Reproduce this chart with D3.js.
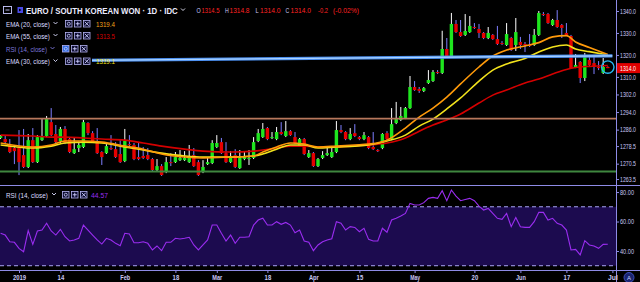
<!DOCTYPE html>
<html>
<head>
<meta charset="utf-8">
<script src="https://cdn.jsdelivr.net/npm/d3@7"></script>
<style>
html,body{margin:0;padding:0;background:#000;}
svg{display:block;}
text{font-family:"Liberation Sans",Arial,sans-serif;}
</style>
</head>
<body>
<script>
// daily candles, 26 Dec 2018 -> 28 Jun 2019
const opens = [1282.2,1281.7,1279.0,1277.6,1278.1,1274.4,1269.0,1281.2,1271.2,1281.2,
  1283.1,1289.4,1284.0,1280.8,1286.3,1281.7,1275.3,1277.6,1278.1,1289.0,
  1284.4,1280.3,1275.8,1275.3,1277.6,1277.1,1274.9,1271.7,1279.4,1279.0,
  1273.5,1274.0,1274.4,1272.6,1267.6,1269.4,1266.7,1271.2,1271.2,1272.1,
  1272.1,1271.2,1274.4,1271.2,1266.7,1270.3,1270.8,1278.1,1280.3,1275.3,
  1271.2,1274.4,1268.5,1272.6,1272.6,1273.1,1280.8,1282.6,1286.7,1282.2,
  1281.7,1284.9,1283.1,1285.3,1282.6,1278.5,1281.7,1273.5,1275.3,1269.4,
  1273.1,1274.4,1273.5,1275.8,1285.8,1284.9,1281.7,1284.4,1282.6,1281.7,
  1282.6,1278.1,1276.7,1277.6,1284.4,1281.7,1289.0,1290.4,1291.3,1295.8,
  1305.4,1304.5,1303.6,1307.2,1308.1,1312.2,1311.8,1322.7,1319.0,1334.1,
  1330.4,1329.1,1330.4,1332.7,1331.8,1330.0,1327.7,1329.1,1327.2,1325.4,
  1324.5,1327.7,1324.5,1325.9,1325.0,1324.5,1324.5,1329.1,1338.6,1338.6,
  1333.6,1335.9,1333.6,1330.0,1328.6,1314.5,1316.8,1309.5,1317.7,1316.3,
  1314.5,1311.8,1314.5];
const highs = [1283.5,1283.5,1281.7,1278.5,1285.8,1286.3,1284.0,1286.7,1283.5,1290.8,
  1292.2,1295.8,1288.1,1287.2,1287.6,1282.2,1282.2,1280.3,1290.4,1289.4,
  1285.3,1286.7,1276.2,1279.4,1283.5,1280.3,1281.2,1286.3,1283.5,1279.9,
  1279.9,1278.1,1277.6,1273.1,1272.6,1270.3,1273.5,1275.3,1275.8,1276.7,
  1276.2,1279.0,1277.6,1272.1,1272.1,1273.1,1281.2,1283.5,1282.2,1280.3,
  1276.2,1277.1,1276.7,1276.2,1276.7,1282.6,1286.3,1289.0,1287.2,1284.9,
  1287.2,1289.4,1289.9,1285.8,1284.9,1282.2,1282.2,1276.7,1275.8,1273.1,
  1276.2,1278.1,1278.5,1289.9,1288.1,1285.3,1286.7,1288.5,1283.1,1284.9,
  1283.1,1284.9,1277.1,1284.4,1285.3,1295.8,1298.6,1296.3,1296.3,1310.4,
  1308.1,1305.4,1305.4,1313.1,1313.1,1313.1,1331.0,1327.7,1339.1,1335.9,
  1335.9,1338.6,1337.7,1334.5,1334.1,1330.4,1332.7,1329.5,1333.2,1326.3,
  1334.5,1328.2,1336.8,1328.2,1325.9,1329.5,1331.8,1340.0,1339.5,1339.1,
  1336.4,1340.4,1334.1,1334.5,1329.1,1320.4,1317.2,1320.9,1320.0,1320.0,
  1317.2,1318.6,1314.8];
const lows = [1281.7,1279.4,1275.3,1270.3,1265.3,1268.5,1268.5,1270.8,1270.8,1280.8,
  1282.6,1283.1,1279.9,1279.9,1279.4,1275.3,1274.9,1275.8,1277.6,1283.5,
  1279.9,1274.9,1269.9,1274.9,1276.7,1273.1,1270.8,1271.2,1278.5,1272.1,
  1272.1,1272.6,1272.1,1267.1,1267.1,1264.9,1266.2,1269.4,1270.8,1271.7,
  1271.7,1270.8,1269.0,1264.9,1266.2,1269.9,1270.3,1277.6,1274.9,1270.8,
  1270.8,1268.5,1268.1,1272.1,1269.9,1272.6,1280.3,1282.2,1281.2,1281.7,
  1281.2,1283.5,1282.6,1283.1,1279.4,1278.1,1274.4,1273.1,1269.0,1269.0,
  1272.6,1274.0,1273.1,1275.3,1284.4,1281.2,1281.2,1282.6,1281.2,1281.2,
  1277.1,1276.7,1275.8,1277.1,1281.2,1281.2,1288.5,1289.9,1290.8,1295.4,
  1303.6,1302.7,1303.1,1306.8,1307.7,1311.3,1311.3,1318.6,1318.6,1330.0,
  1328.2,1328.6,1330.0,1331.8,1327.7,1327.2,1327.2,1326.8,1324.5,1324.5,
  1324.1,1321.8,1321.8,1322.7,1321.3,1323.6,1324.1,1328.6,1337.7,1334.1,
  1333.2,1332.3,1327.7,1328.6,1313.6,1314.0,1307.2,1308.1,1315.0,1311.3,
  1313.1,1311.3,1314.0];
const closes = [1283.1,1280.3,1275.8,1276.2,1271.2,1269.0,1281.2,1271.2,1282.6,1283.1,
  1290.8,1283.5,1280.3,1286.3,1279.9,1275.8,1277.1,1279.0,1289.4,1284.4,
  1280.3,1275.3,1273.5,1278.5,1277.1,1273.5,1271.2,1280.8,1279.0,1272.6,
  1272.6,1273.1,1272.6,1267.6,1269.4,1265.3,1271.2,1270.8,1273.5,1273.1,
  1273.1,1273.5,1269.4,1265.3,1269.0,1271.2,1279.9,1279.9,1275.3,1271.2,
  1274.0,1269.0,1273.1,1273.5,1273.1,1280.3,1284.4,1286.3,1281.7,1282.6,
  1284.9,1284.0,1285.3,1283.5,1279.9,1281.7,1274.9,1275.3,1269.4,1272.6,
  1274.4,1275.3,1275.8,1285.8,1284.9,1281.7,1284.0,1283.1,1281.7,1283.5,
  1277.6,1277.1,1276.2,1284.0,1281.7,1288.5,1290.8,1292.2,1295.8,1305.4,
  1304.0,1303.6,1304.9,1308.6,1312.2,1311.8,1322.7,1319.0,1334.1,1330.4,
  1328.6,1330.9,1333.2,1332.3,1330.0,1327.7,1330.0,1327.2,1325.0,1325.0,
  1329.5,1322.2,1330.4,1324.5,1324.5,1324.1,1329.1,1339.1,1338.2,1334.5,
  1335.9,1332.7,1332.3,1329.1,1314.0,1315.4,1309.5,1319.0,1315.4,1314.5,
  1314.0,1314.5,1314.0];

// RSI(14), one value per candle
const rsiValues = [52.0,50.8,46.3,45.9,41.8,39.5,53.8,44.5,53.6,54.2,
  58.8,53.6,50.8,54.7,49.7,46.8,47.5,48.6,57.6,54.2,
  50.8,47.5,44.7,48.6,47.5,45.2,43.6,52.0,51.5,45.6,
  45.6,46.3,45.2,40.7,43.4,40.2,45.9,45.9,48.6,48.1,
  48.6,49.3,44.1,40.7,44.1,47.5,57.6,57.6,52.0,46.8,
  50.8,45.2,49.3,49.3,49.7,57.6,61.0,62.2,57.6,57.6,
  59.9,58.1,59.4,57.6,52.4,54.2,46.8,45.9,40.2,44.1,
  46.3,47.5,48.3,59.9,58.8,54.2,56.5,56.0,53.1,55.4,
  47.9,46.8,46.8,55.4,52.7,61.0,62.2,63.7,65.5,72.3,
  71.2,71.2,72.8,75.7,76.4,75.7,80.9,74.1,81.4,77.3,
  74.1,75.0,75.7,74.1,70.5,67.8,68.9,65.5,62.2,61.5,
  65.5,56.5,62.8,56.5,56.0,56.0,59.9,66.2,66.2,61.0,
  62.2,58.8,57.6,54.2,40.7,41.1,37.3,47.0,44.1,43.4,
  41.8,44.5,44.6];

// moving averages, read at these candle positions
const emaBars = [0,7,11,14,18,22,27,31,35,40,44,50,55,57,60,63,66,69,73,77,80,84,88,91,94,97,100,104,107,110,114,117,120,123,125,128,132];
const ema20 = [1279.9,1278.1,1279.0,1280.8,1280.8,1280.3,1278.5,1277.1,1274.9,1273.5,1273.1,1273.5,1274.0,1275.8,1278.1,1279.9,1279.4,1278.1,1278.5,1279.0,1279.4,1281.2,1286.7,1291.7,1295.8,1300.8,1306.8,1314.5,1319.5,1322.2,1324.1,1325.6,1328.2,1328.8,1325.9,1323.4,1320.2];
const ema30 = [1279.0,1277.6,1278.5,1279.9,1280.3,1279.9,1278.1,1276.7,1275.3,1274.0,1273.5,1273.5,1274.0,1274.9,1277.1,1279.0,1279.0,1277.6,1278.1,1278.5,1279.0,1280.8,1283.5,1287.6,1290.8,1295.4,1300.4,1308.1,1313.1,1315.9,1318.4,1321.3,1323.6,1324.5,1322.7,1321.5,1320.0];
const ema55 = [1283.5,1283.1,1282.6,1282.6,1282.2,1281.7,1281.2,1279.9,1278.5,1277.1,1276.2,1275.8,1276.2,1276.7,1277.6,1278.5,1278.5,1278.1,1278.1,1278.5,1279.0,1279.9,1282.2,1285.3,1288.1,1290.4,1293.1,1298.1,1301.7,1304.0,1307.2,1309.0,1311.3,1313.4,1314.3,1314.8,1315.2];

// drawn levels
const trendDates = ["2018-12-26", "2019-07-01"];
const trendPrices = [1317.2, 1319.6];
const resistLevel = 1291.0;
const supportLevel = 1266.9;

const priceTicks = [1340, 1330, 1320, 1310, 1302, 1294, 1286, 1278.5, 1270.5, 1263.5];
const rsiTicks = [80, 60, 40];
const xTickDates = ["2019-01-01","2019-01-14","2019-02-01","2019-02-18","2019-03-01","2019-03-18","2019-04-01","2019-04-15","2019-05-01","2019-05-20","2019-06-03","2019-06-17","2019-07-01"];
const xTickLabels = ["2019","14","Feb","18","Mar","18","Apr","15","May","20","Jun","17","Jul"];

const titleText = "EURO / SOUTH KOREAN WON · 1D · IDC";
const legendLabels = ["EMA (20, close)", "EMA (55, close)", "RSI (14, close)", "EMA (30, close)"];
const legendValues = ["1319.4", "1313.5", "", "1319.1"];
const rsiLegendValue = "44.57";
const quoteChange = ["-0.2", "(-0.02%)"];

const W = 640, H = 282, axisX = 616;
const lav = "#c9c7f5", lineLav = "#8e8be6";

const fmt = d3.timeFormat("%Y-%m-%d");
const allDays = d3.timeDay.range(new Date(2018, 11, 26), new Date(2019, 6, 2))
  .filter(d => d.getDay() !== 0 && d.getDay() !== 6).map(fmt);
const barDays = allDays.slice(0, closes.length);
const last = closes.length - 1;

const x = d3.scalePoint().domain(allDays).range([0.6, 612.4]);
const y = d3.scaleLinear().domain([1261.7, 1345]).range([183, 0]);
const ry = d3.scaleLinear().domain([27.1, 84.1]).range([270, 186]);

const svg = d3.select("body").append("svg").attr("width", W).attr("height", H);
svg.append("rect").attr("width", W).attr("height", H).attr("fill", "#000");

const defs = svg.append("defs");
defs.append("clipPath").attr("id", "pclip").append("rect").attr("x", 0).attr("y", 0).attr("width", axisX).attr("height", 185);
defs.append("clipPath").attr("id", "rclip").append("rect").attr("x", 0).attr("y", 186).attr("width", axisX).attr("height", 84);

/* ---------- price pane ---------- */
const pg = svg.append("g").attr("clip-path", "url(#pclip)");

const bars = closes.map((c, i) => ({d: barDays[i], o: opens[i], h: highs[i], l: lows[i], c: c}));
const bw = 3.4;

pg.selectAll(".wick").data(bars).join("line")
  .attr("x1", d => x(d.d)).attr("x2", d => x(d.d))
  .attr("y1", d => y(d.h)).attr("y2", d => y(d.l))
  .attr("stroke", d => d.c >= d.o ? "#ffffff" : "#7f7fff").attr("stroke-width", 1);

pg.selectAll(".body").data(bars).join("rect")
  .attr("x", d => x(d.d) - bw / 2).attr("width", bw)
  .attr("y", d => y(Math.max(d.o, d.c)))
  .attr("height", d => Math.max(1, Math.abs(y(d.o) - y(d.c))))
  .attr("fill", d => d.c >= d.o ? "#1ee61e" : "#e60000");

const emaLine = d3.line().x(d => x(barDays[d[0]])).y(d => y(d[1])).curve(d3.curveMonotoneX);
[[ema55, "#d40000"], [ema30, "#f2e21c"], [ema20, "#ff9a0a"]].forEach(([vals, col]) => {
  pg.append("path").datum(vals.map((v, k) => [emaBars[k], v]))
    .attr("d", emaLine).attr("fill", "none").attr("stroke", col).attr("stroke-width", 1.6);
});

pg.append("line").attr("x1", 0).attr("x2", axisX).attr("y1", y(resistLevel)).attr("y2", y(resistLevel))
  .attr("stroke", "#b7775c").attr("stroke-width", 1.6);
pg.append("line").attr("x1", 0).attr("x2", axisX).attr("y1", y(supportLevel)).attr("y2", y(supportLevel))
  .attr("stroke", "#3f873f").attr("stroke-width", 2);

// blue trend line
[[3.2, "#4b8ff0"], [1.2, "#a9d2ff"]].forEach(([w, col]) => {
  pg.append("line")
    .attr("x1", x(trendDates[0])).attr("y1", y(trendPrices[0]))
    .attr("x2", x(trendDates[1])).attr("y2", y(trendPrices[1]))
    .attr("stroke", col).attr("stroke-width", w);
});

pg.append("circle").attr("cx", x(barDays[last])).attr("cy", y(closes[last]) - 1).attr("r", 6.2)
  .attr("fill", "none").attr("stroke", "#27b5ee").attr("stroke-width", 1.4);

/* ---------- rsi pane ---------- */
const rg = svg.append("g").attr("clip-path", "url(#rclip)");
rg.append("rect").attr("x", 0).attr("width", axisX).attr("y", ry(70)).attr("height", ry(30) - ry(70)).attr("fill", "#1c0b4f");
[70, 30].forEach(v => {
  rg.append("line").attr("x1", 0).attr("x2", axisX).attr("y1", ry(v)).attr("y2", ry(v))
    .attr("stroke", "#aaa5f5").attr("stroke-width", 1).attr("stroke-dasharray", "4,3");
});
rg.append("path").datum(rsiValues)
  .attr("d", d3.line().x((d, i) => x(barDays[i])).y(d => ry(d)))
  .attr("fill", "none").attr("stroke", "#9a2df0").attr("stroke-width", 1.1);

/* ---------- frame lines ---------- */
svg.append("line").attr("x1", axisX + 0.5).attr("x2", axisX + 0.5).attr("y1", 0).attr("y2", H).attr("stroke", lineLav);
svg.append("line").attr("x1", 0).attr("x2", W).attr("y1", 185.5).attr("y2", 185.5).attr("stroke", lineLav);
svg.append("line").attr("x1", 0).attr("x2", W).attr("y1", 270.5).attr("y2", 270.5).attr("stroke", lineLav);

/* ---------- axes ---------- */
function styleAxis(g, len) {
  g.select(".domain").remove();
  g.selectAll(".tick line").attr("stroke", lineLav);
  g.selectAll(".tick text").attr("fill", lav).attr("font-size", 7)
    .attr("textLength", len).attr("lengthAdjust", "spacingAndGlyphs");
}
const pAxis = svg.append("g").attr("transform", `translate(${axisX},0)`)
  .call(d3.axisRight(y).tickValues(priceTicks).tickSize(3).tickPadding(1).tickFormat(d3.format(".1f")));
styleAxis(pAxis, 16);

const rAxis = svg.append("g").attr("transform", `translate(${axisX},0)`)
  .call(d3.axisRight(ry).tickValues(rsiTicks).tickSize(3).tickPadding(1).tickFormat(d3.format(".2f")));
styleAxis(rAxis, 14);

const xAxis = svg.append("g").attr("transform", "translate(0,270)")
  .call(d3.axisBottom(x).tickValues(xTickDates).tickSize(3).tickPadding(2).tickFormat((d, i) => xTickLabels[i]));
xAxis.select(".domain").remove();
xAxis.selectAll(".tick line").attr("stroke", lineLav);
xAxis.selectAll(".tick text").attr("fill", lav).attr("font-size", 7).attr("font-weight", "bold")
  .attr("textLength", (d, i) => xTickLabels[i].length * 3.3).attr("lengthAdjust", "spacingAndGlyphs");

// last price tag
const tagY = y(closes[last]);
svg.append("rect").attr("x", axisX + 1).attr("y", tagY - 5).attr("width", W - axisX - 1).attr("height", 10).attr("fill", "#e00000");
svg.append("text").attr("x", axisX + 4).attr("y", tagY + 2.5).attr("fill", "#fff").attr("font-size", 7)
  .attr("textLength", 16).attr("lengthAdjust", "spacingAndGlyphs").text(d3.format(".1f")(closes[last]));

// "A" button
svg.append("circle").attr("cx", 629).attr("cy", 277.5).attr("r", 5).attr("fill", "#1a2470").attr("stroke", "#3d4fb8");
svg.append("text").attr("x", 629).attr("y", 280).attr("text-anchor", "middle").attr("fill", "#c8d0ff").attr("font-size", 6).text("A");

/* ---------- header & legends ---------- */
function chevron(x0, yb, col) {
  svg.append("path").attr("d", `M${x0},${yb - 4} L${x0 + 2},${yb - 2} L${x0 + 4},${yb - 4}`)
    .attr("fill", "none").attr("stroke", col).attr("stroke-width", 0.9);
}
function icons(x0, yTop, highlight) {
  for (let k = 0; k < 3; k++) {
    const ix = x0 + k * 9;
    svg.append("rect").attr("x", ix + 0.5).attr("y", yTop + 0.5).attr("width", 6.5).attr("height", 6.5)
      .attr("fill", highlight && k === 0 ? "#2e6be0" : "#0c0c30").attr("stroke", "#b4b2f2").attr("stroke-width", 0.8);
    const cx = ix + 3.75, cy = yTop + 3.75;
    if (k === 0) svg.append("circle").attr("cx", cx).attr("cy", cy).attr("r", 1.5).attr("fill", "none").attr("stroke", "#d0d0ff").attr("stroke-width", 0.8);
    if (k === 1) svg.append("path").attr("d", `M${cx - 2},${cy} H${cx + 2} M${cx},${cy - 2} V${cy + 2}`).attr("stroke", "#d0d0ff").attr("stroke-width", 0.9);
    if (k === 2) svg.append("path").attr("d", `M${cx - 2},${cy - 2} L${cx + 2},${cy + 2} M${cx + 2},${cy - 2} L${cx - 2},${cy + 2}`).attr("stroke", "#d0d0ff").attr("stroke-width", 0.9);
  }
}
// squeeze a text horizontally to a given width with a transform (keeps its box honest)
function txt(x0, yb, s, col, size, len, weight) {
  const t = svg.append("text").attr("x", 0).attr("y", 0).attr("fill", col).attr("font-size", size).text(s);
  if (weight) t.attr("font-weight", weight);
  const natural = t.node().getComputedTextLength();
  const sx = len && natural > 0 ? len / natural : 1;
  t.attr("transform", `translate(${x0},${yb}) scale(${sx},1)`);
  return t;
}

// row 1
svg.append("rect").attr("x", 3.5).attr("y", 6.5).attr("width", 8).attr("height", 7).attr("fill", "none").attr("stroke", "#c9c9ff").attr("stroke-width", 0.9);
svg.append("line").attr("x1", 5.5).attr("x2", 9.5).attr("y1", 10).attr("y2", 10).attr("stroke", "#c9c9ff").attr("stroke-width", 0.9);
svg.append("path").attr("d", "M17.5,7 H23 V13 H17.5 Z M19,8.5 L21.5,10 L19,11.5 Z").attr("fill", "#4a4ae8").attr("fill-rule", "evenodd");
txt(26, 13.6, titleText, "#ececff", 9, 152, "bold");
chevron(181, 12.5, "#ececff");
const quoteParts = [
  [196.5, "O", lav, 4.2], [201.5, d3.format(".1f")(opens[last]), "#ff2222", 18],
  [225, "H", lav, 3.8], [229.5, d3.format(".1f")(highs[last]), "#ff2222", 20],
  [255.5, "L", lav, 3.2], [260, d3.format(".1f")(lows[last]), "#ff2222", 20.5],
  [285.5, "C", lav, 3.8], [290.5, d3.format(".1f")(closes[last]), "#ff2222", 20.5],
  [318, quoteChange[0], "#ff2222", 10], [333, quoteChange[1], "#ff2222", 26]
];
quoteParts.forEach(([qx, s, col, len]) => txt(qx, 12.5, s, col, 7, len));

// indicator legend rows
const rowBase = [26.5, 38.5, 51.5, 64];
const valueCols = ["#f5a21a", "#d80000", "", "#f2e21c"];
legendLabels.forEach((lab, r) => {
  const yb = rowBase[r];
  const isRsi = r === 2;
  svg.append("rect").attr("x", 0).attr("y", yb - 8).attr("width", isRsi ? 88 : 92).attr("height", 11).attr("fill", "#000");
  txt(6, yb, lab, isRsi ? "#7c77d8" : "#dcdcff", 7, isRsi ? 41 : 44);
  chevron(isRsi ? 50.5 : 53.5, yb - 0.5, isRsi ? "#7c77d8" : "#dcdcff");
  icons(isRsi ? 62 : 65, yb - 6.5, isRsi);
  if (legendValues[r]) txt(96, yb, legendValues[r], valueCols[r], 7, 19);
});

// rsi pane legend
txt(6, 197.5, legendLabels[2], "#dcdcff", 7, 42);
chevron(52, 197, "#dcdcff");
icons(62, 191, false);
txt(91, 197.5, rsiLegendValue, "#9a2df0", 7, 17);
</script>
</body>
</html>
